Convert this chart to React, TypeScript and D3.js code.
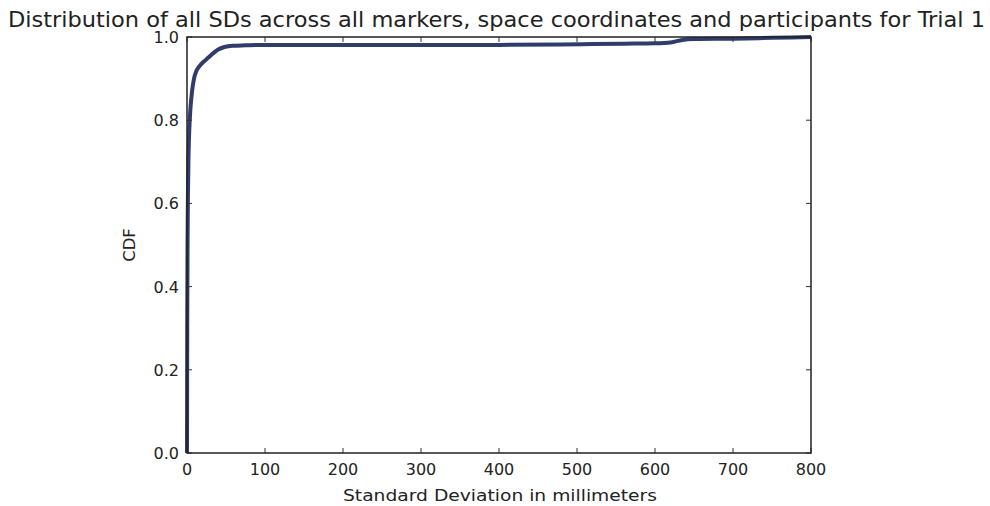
import React from "react";
import * as d3 from "d3";

const title = "Distribution of all SDs across all markers, space coordinates and participants for Trial 1";
const xLabel = "Standard Deviation in millimeters";
const yLabel = "CDF";
const xTicks = [0, 100, 200, 300, 400, 500, 600, 700, 800];
const yTicks = [0.0, 0.2, 0.4, 0.6, 0.8, 1.0];

const sdValues = [0, 0.3, 0.7, 1.2, 2, 3, 4.5, 6.5, 9, 12, 16, 21, 27, 33, 40, 48, 58, 75, 100, 200, 300, 400, 480, 520, 560, 600, 620, 635, 650, 700, 750, 800];
const cdfValues = [0, 0.3, 0.5, 0.62, 0.72, 0.78, 0.83, 0.87, 0.9, 0.918, 0.93, 0.94, 0.95, 0.96, 0.97, 0.976, 0.979, 0.98, 0.981, 0.981, 0.981, 0.981, 0.982, 0.983, 0.984, 0.985, 0.987, 0.993, 0.995, 0.996, 0.998, 1.0];

export default function App() {
  const W = 990, H = 506;
  const left = 187, right = 811, top = 37, bottom = 453;
  const x = d3.scaleLinear().domain([0, 800]).range([left, right]);
  const y = d3.scaleLinear().domain([0, 1]).range([bottom, top]);
  const pts: [number, number][] = sdValues.map((v, i) => [v, cdfValues[i]]);
  const line = d3.line<[number, number]>().x(d => x(d[0])).y(d => y(d[1])).curve(d3.curveMonotoneX);
  const font = "'DejaVu Sans', sans-serif";
  const tickLen = 5;
  const tickFs = 16;
  return (
    <svg width={W} height={H} style={{ position: "absolute", left: 0, top: 0, background: "#fff" }}>
      <rect x={0} y={0} width={W} height={H} fill="#fff" />
      <text x={496.5} y={27} textAnchor="middle" fontFamily={font} fontSize={21} fill="#222" textLength={977} lengthAdjust="spacingAndGlyphs">{title}</text>
      <path d={line(pts) || ""} fill="none" stroke="#2f3c6c" strokeWidth={4} strokeLinejoin="round" strokeLinecap="butt" />
      {xTicks.map(t => (
        <g key={"x" + t}>
          <line x1={x(t)} x2={x(t)} y1={bottom} y2={bottom - tickLen} stroke="#333" strokeWidth={1} />
          <line x1={x(t)} x2={x(t)} y1={top} y2={top + tickLen} stroke="#333" strokeWidth={1} />
          <text x={x(t)} y={475} textAnchor="middle" fontFamily={font} fontSize={tickFs} fill="#222">{t}</text>
        </g>
      ))}
      {yTicks.map(t => (
        <g key={"y" + t}>
          <line x1={left} x2={left + tickLen} y1={y(t)} y2={y(t)} stroke="#333" strokeWidth={1} />
          <line x1={right} x2={right - tickLen} y1={y(t)} y2={y(t)} stroke="#333" strokeWidth={1} />
          <text x={179} y={y(t) + 6} textAnchor="end" fontFamily={font} fontSize={tickFs} fill="#222">{t.toFixed(1)}</text>
        </g>
      ))}
      <rect x={left} y={top} width={right - left} height={bottom - top} fill="none" stroke="#222" strokeWidth={1.5} />
      <text x={500} y={501} textAnchor="middle" fontFamily={font} fontSize={16.5} fill="#222" textLength={314} lengthAdjust="spacingAndGlyphs">{xLabel}</text>
      <text transform={`translate(135, 245) rotate(-90)`} textAnchor="middle" fontFamily={font} fontSize={16.5} fill="#222">{yLabel}</text>
    </svg>
  );
}
